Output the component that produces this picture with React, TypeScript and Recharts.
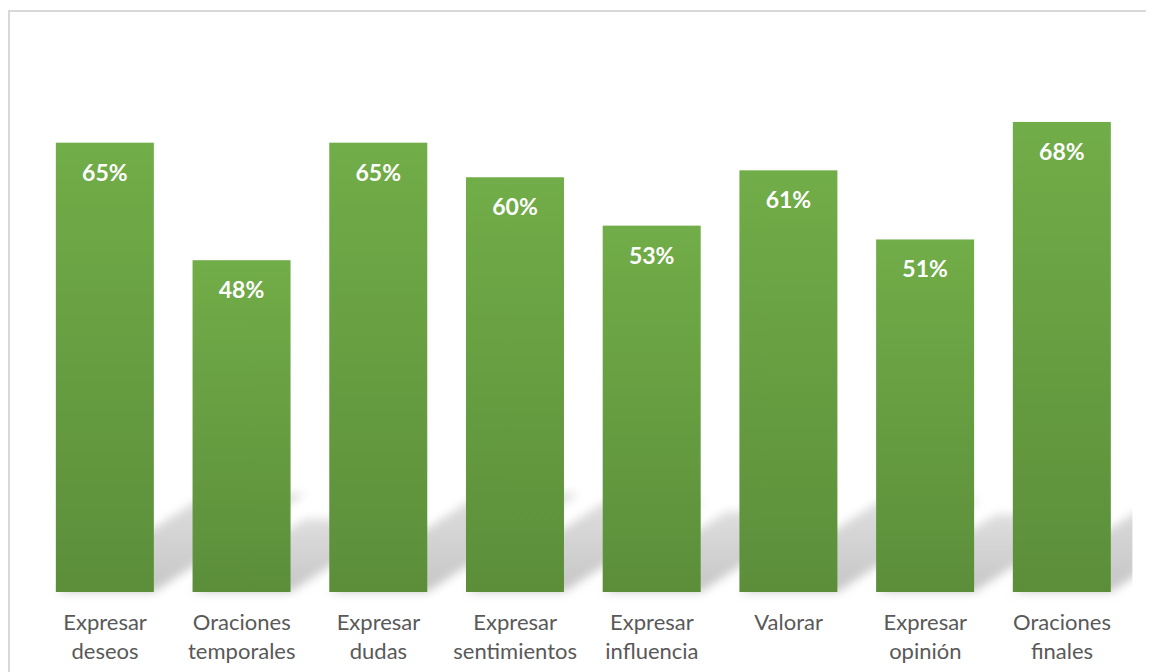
import { BarChart, Bar, XAxis, YAxis, LabelList } from 'recharts';

const categories = [
  'Expresar deseos',
  'Oraciones temporales',
  'Expresar dudas',
  'Expresar sentimientos',
  'Expresar influencia',
  'Valorar',
  'Expresar opinión',
  'Oraciones finales',
];
const values = [0.65, 0.48, 0.65, 0.6, 0.53, 0.61, 0.51, 0.68];

const data = categories.map((name, i) => ({ name, value: values[i] }));

const WIDTH = 1144;
const HEIGHT = 660;
const MARGIN = { top: 27, right: 23.6, bottom: 0, left: 26.7 };

// bar + a skewed, blurred "perspective" shadow falling up-right behind it
const ShadowBar = (props: any) => {
  const { x, y, width, height } = props;
  const base = y + height;
  const sh = height * 0.22;
  const dx = sh / 0.65;
  const pts = [
    [x, base],
    [x + width, base],
    [x + width + dx, base - sh],
    [x + dx, base - sh],
  ]
    .map((p) => p.join(','))
    .join(' ');
  return (
    <g>
      <g clipPath="url(#plotClip)">
        <polygon points={pts} fill="url(#shadowFill)" filter="url(#shadowBlur)" />
      </g>
      <rect x={x} y={y} width={width} height={height} fill="url(#barFill)" />
    </g>
  );
};

const renderTick = (props: any) => {
  const { x, y, payload } = props;
  const words = String(payload.value).split(' ');
  return (
    <text x={x} textAnchor="middle" fill="#595959" fontFamily="Lato, sans-serif" fontSize={22}>
      {words.map((w, i) => (
        <tspan key={i} x={x} y={y + 38 + i * 29}>
          {w}
        </tspan>
      ))}
    </text>
  );
};

const renderValue = (props: any) => {
  const { x, y, width, value } = props;
  return (
    <text
      x={x + width / 2}
      y={y + 38}
      textAnchor="middle"
      fill="#ffffff"
      fontFamily="Lato, sans-serif"
      fontWeight={700}
      fontSize={23}
    >
      {Math.round(value * 100)}%
    </text>
  );
};

export default function App() {
  return (
    <div
      style={{
        marginTop: 2,
        width: 1138,
        height: 662,
        boxSizing: 'border-box',
        borderTop: '2px solid #d9d9d9',
        borderLeft: '2px solid #d9d9d9',
        overflow: 'hidden',
        background: '#fff',
      }}
    >
      <BarChart width={WIDTH} height={HEIGHT} data={data} margin={MARGIN} barCategoryGap="14%">
        <defs>
          <linearGradient id="barFill" x1="0" y1="0" x2="0" y2="1">
            <stop offset="0%" stopColor="#71ad48" />
            <stop offset="100%" stopColor="#5c8e3a" />
          </linearGradient>
          <linearGradient id="shadowFill" x1="0" y1="1" x2="0" y2="0">
            <stop offset="0%" stopColor="#c6c6c6" />
            <stop offset="100%" stopColor="#dedede" />
          </linearGradient>
          <filter id="shadowBlur" x="-20%" y="-30%" width="140%" height="160%">
            <feGaussianBlur stdDeviation="5" />
          </filter>
          <clipPath id="plotClip">
            <rect x={0} y={0} width={WIDTH - MARGIN.right + 2} height={HEIGHT} />
          </clipPath>
        </defs>
        <XAxis
          dataKey="name"
          axisLine={false}
          tickLine={false}
          tickSize={0}
          tickMargin={0}
          height={80}
          interval={0}
          tick={renderTick}
        />
        <YAxis hide domain={[0, 0.8]} />
        <Bar dataKey="value" shape={ShadowBar} isAnimationActive={false}>
          <LabelList dataKey="value" content={renderValue} />
        </Bar>
      </BarChart>
    </div>
  );
}
